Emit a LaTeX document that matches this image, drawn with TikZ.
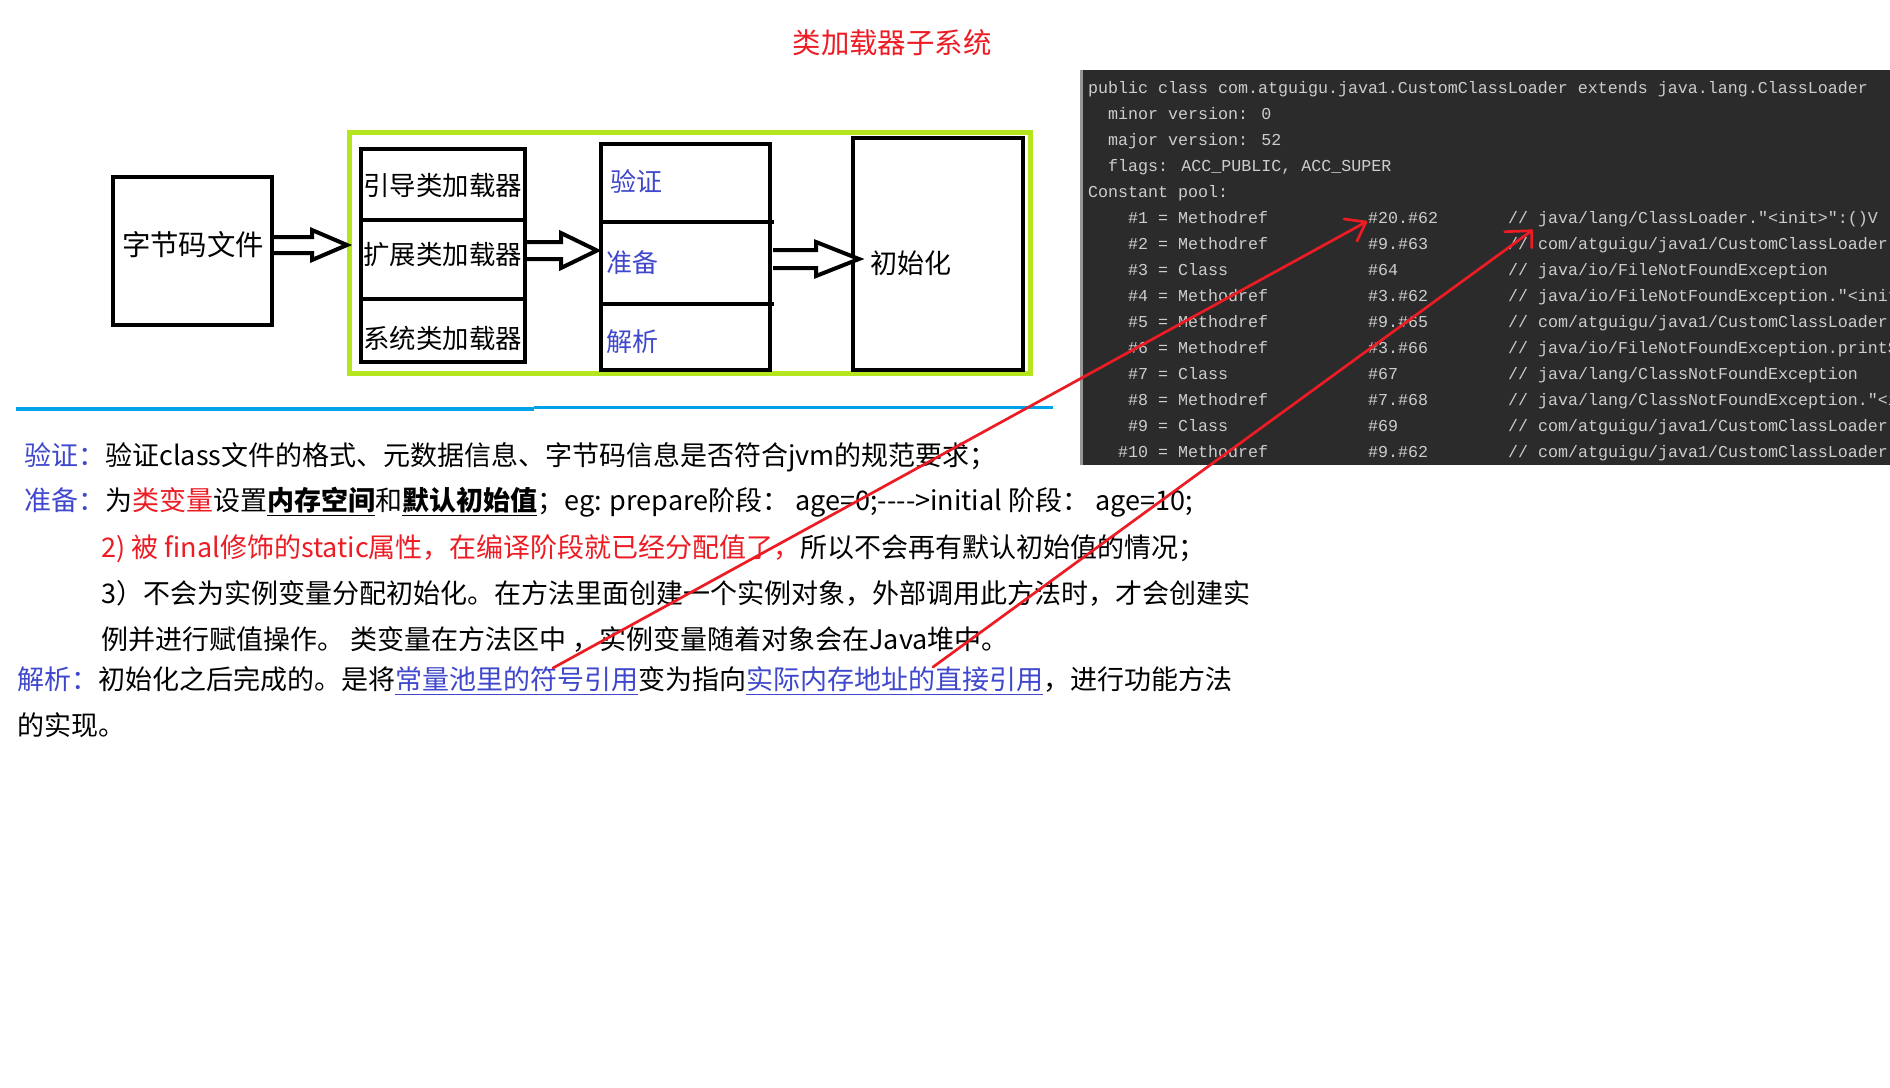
\documentclass[tikz,border=0pt]{standalone}
\usepackage{fontspec}
\setmainfont{Noto Sans CJK SC}
\newfontfamily\codefont{Liberation Mono}
\usetikzlibrary{fit}
\definecolor{tred}{RGB}{237,28,36}
\definecolor{lblue}{RGB}{63,72,204}
\definecolor{lgreen}{RGB}{181,230,29}
\definecolor{sepblue}{RGB}{0,162,232}
\definecolor{codebg}{RGB}{43,43,43}
\definecolor{codefg}{RGB}{205,205,205}
\definecolor{codeedge}{RGB}{150,150,150}
\newcommand\blockarrow[5]{% start, tip, shaft half, base dx, head half
  \draw[blockarr] ([shift={(0,-#3)}]#1) -- ([shift={(#4,-#3)}]#1) -- ([shift={(#4,-#5)}]#1) -- (#2)
    -- ([shift={(#4,#5)}]#1) -- ([shift={(#4,#3)}]#1) -- ([shift={(0,#3)}]#1);}
\begin{document}
\begin{tikzpicture}[x=0.5pt,y=-0.5pt,
  box/.style={draw=black, line width=2.25pt, inner sep=0pt},
  divider/.style={draw=black, line width=2.25pt},
  greenbox/.style={draw=lgreen, line width=2.5pt, inner sep=0pt},
  blockarr/.style={draw=black, fill=white, line width=2pt, line join=miter},
  dtext/.style={inner sep=0pt, text=black},
  ptext/.style={inner sep=0pt, anchor=base west, font=\fontsize{13.5pt}{16pt}\selectfont},
  code/.style={inner sep=0pt, anchor=base west, text=codefg, font=\codefont\fontsize{8.33pt}{10pt}\selectfont},
  redline/.style={draw=tred, line width=1.35pt, line cap=round, line join=round},
]
\useasboundingbox (0,0) rectangle (1890,1087);
\fill[white] (0,0) rectangle (1890,1087);

% title
\node[inner sep=0pt, text=tred, font=\fontsize{14.2pt}{17pt}\selectfont] (title) at (892,43) {类加载器子系统};

% code panel
\fill[codebg] (1082,70) rectangle (1890,465);
\draw[codeedge, line width=1.5pt] (1081.5,70) -- (1081.5,465);
\begin{scope}
\clip (1083,70) rectangle (1890,465);
\node[code] (c0) at (1087.7,93) {public class com.atguigu.java1.CustomClassLoader extends java.lang.ClassLoader};
\node[code] (c1) at (1107.7,119) {minor version: 0};
\node[code] (c2) at (1107.7,145) {major version: 52};
\node[code] (c3) at (1107.7,171) {flags: ACC\_PUBLIC, ACC\_SUPER};
\node[code] (c4) at (1087.7,197) {Constant pool:};
\node[code] (c5a) at (1127.7,223) {\#1 = Methodref};
\node[code] (c5b) at (1367.7,223) {\#20.\#62};
\node[code] (c5c) at (1507.7,223) {// java/lang/ClassLoader."<init>":()V};
\node[code] (c6a) at (1127.7,249) {\#2 = Methodref};
\node[code] (c6b) at (1367.7,249) {\#9.\#63};
\node[code] (c6c) at (1507.7,249) {// com/atguigu/java1/CustomClassLoader.getClassFromCustomPath:(Ljava/lang/String;)[B};
\node[code] (c7a) at (1127.7,275) {\#3 = Class};
\node[code] (c7b) at (1367.7,275) {\#64};
\node[code] (c7c) at (1507.7,275) {// java/io/FileNotFoundException};
\node[code] (c8a) at (1127.7,301) {\#4 = Methodref};
\node[code] (c8b) at (1367.7,301) {\#3.\#62};
\node[code] (c8c) at (1507.7,301) {// java/io/FileNotFoundException."<init>":()V};
\node[code] (c9a) at (1127.7,327) {\#5 = Methodref};
\node[code] (c9b) at (1367.7,327) {\#9.\#65};
\node[code] (c9c) at (1507.7,327) {// com/atguigu/java1/CustomClassLoader.defineClass:(Ljava/lang/String;[BII)Ljava/lang/Class;};
\node[code] (c10a) at (1127.7,353) {\#6 = Methodref};
\node[code] (c10b) at (1367.7,353) {\#3.\#66};
\node[code] (c10c) at (1507.7,353) {// java/io/FileNotFoundException.printStackTrace:()V};
\node[code] (c11a) at (1127.7,379) {\#7 = Class};
\node[code] (c11b) at (1367.7,379) {\#67};
\node[code] (c11c) at (1507.7,379) {// java/lang/ClassNotFoundException};
\node[code] (c12a) at (1127.7,405) {\#8 = Methodref};
\node[code] (c12b) at (1367.7,405) {\#7.\#68};
\node[code] (c12c) at (1507.7,405) {// java/lang/ClassNotFoundException."<init>":(Ljava/lang/String;)V};
\node[code] (c13a) at (1127.7,431) {\#9 = Class};
\node[code] (c13b) at (1367.7,431) {\#69};
\node[code] (c13c) at (1507.7,431) {// com/atguigu/java1/CustomClassLoader};
\node[code] (c14a) at (1117.7,457) {\#10 = Methodref};
\node[code] (c14b) at (1367.7,457) {\#9.\#62};
\node[code] (c14c) at (1507.7,457) {// com/atguigu/java1/CustomClassLoader."<init>":()V};
\end{scope}

% diagram boxes
\node[greenbox, fit={(349.5,132.5) (1030.5,373.5)}] (stage) {};
\node[box, fit={(113,177) (272,325)}] (byte) {};
\node[box, fit={(361,149) (525,362)}] (loaders) {};
\draw[divider] (361,220) -- (525,220);
\draw[divider] (361,299) -- (525,299);
\node[box, fit={(601,144) (770,370)}] (link) {};
\draw[divider] (601,222) -- (774,222);
\draw[divider] (601,304) -- (774,304);
\node[box, fit={(853,138) (1023,370)}] (init) {};

% texts in diagram
\node[dtext, font=\fontsize{14.2pt}{17pt}\selectfont] (tbyte) at (193,245) {字节码文件};
\node[dtext, anchor=west, font=\fontsize{13.2pt}{16pt}\selectfont] (tboot) at (363,185) {引导类加载器};
\node[dtext, anchor=west, font=\fontsize{13.2pt}{16pt}\selectfont] (text) at (363,255) {扩展类加载器};
\node[dtext, anchor=west, font=\fontsize{13.2pt}{16pt}\selectfont] (tsys) at (363,338) {系统类加载器};
\node[dtext, anchor=west, text=lblue, font=\fontsize{13pt}{16pt}\selectfont] (tver) at (610,181) {验证};
\node[dtext, anchor=west, text=lblue, font=\fontsize{13pt}{16pt}\selectfont] (tprep) at (606,263) {准备};
\node[dtext, anchor=west, text=lblue, font=\fontsize{13pt}{16pt}\selectfont] (tres) at (606,342) {解析};
\node[dtext, anchor=west, font=\fontsize{13.5pt}{16pt}\selectfont] (tinit) at (870,263) {初始化};

% block arrows
\coordinate (a1s) at (274,245);   \coordinate (a1t) at (347,245);
\coordinate (a2s) at (527,250.5); \coordinate (a2t) at (597,250.5);
\coordinate (a3s) at (773,259);   \coordinate (a3t) at (859,259);
\blockarrow{a1s}{a1t}{8}{38}{15}
\blockarrow{a2s}{a2t}{8.5}{34}{17.5}
\blockarrow{a3s}{a3t}{9}{43}{17}

% separator line
\draw[sepblue, line width=1.75pt] (16,409) -- (534,409);
\draw[sepblue, line width=1.75pt] (534,407.3) -- (1053,407.3);

% paragraph text
\node[ptext] (p1) at (24,465) {{\color{lblue}验证：}验证class文件的格式、元数据信息、字节码信息是否符合jvm的规范要求；};
\node[ptext] (p2) at (24,510) {{\color{lblue}准备：}为{\color{tred}类变量}设置\underline{\textbf{内存空间}}和\underline{\textbf{默认初始值}}；eg: prepare阶段： age=0;-{}-{}-{}->initial 阶段： age=10;};
\node[ptext] (p3) at (101,557) {{\color{tred}2) 被 final修饰的static属性，在编译阶段就已经分配值了，}所以不会再有默认初始值的情况；};
\node[ptext] (p4) at (101,603) {3）不会为实例变量分配初始化。在方法里面创建一个实例对象，外部调用此方法时，才会创建实};
\node[ptext] (p5) at (101,649) {例并进行赋值操作。 类变量在方法区中 ，实例变量随着对象会在Java堆中。};
\node[ptext] (p6) at (17,689) {{\color{lblue}解析：}初始化之后完成的。是将{\color{lblue}\underline{常量池里的符号引用}}变为指向{\color{lblue}\underline{实际内存地址的直接引用}}，进行功能方法};
\node[ptext] (p7) at (17,735) {的实现。};

% red annotation arrows
\coordinate (r1s) at (553,668);  \coordinate (r1t) at (1366,222);
\coordinate (r2s) at (933,667);  \coordinate (r2t) at (1531.7,230.7);
\draw[redline] (r1s) -- (r1t);
\draw[redline] ([shift={(-22,-3)}]r1t) -- (r1t) -- ([shift={(-9,19)}]r1t);
\draw[redline] (r2s) -- (r2t);
\draw[redline] ([shift={(-27,1)}]r2t) -- (r2t) -- ([shift={(0,17)}]r2t);
\end{tikzpicture}
\end{document}
